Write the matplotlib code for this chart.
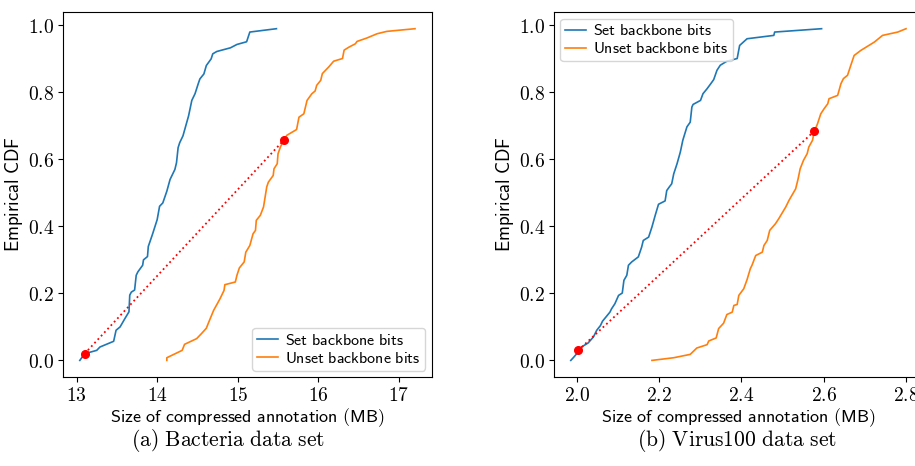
import matplotlib
matplotlib.use('Agg')
import matplotlib.pyplot as plt

plt.rcParams['mathtext.fontset'] = 'cm'

# (a) Bacteria data set
bact_set_x = [13.04, 13.10, 13.25, 13.29, 13.46, 13.49, 13.54, 13.60, 13.65, 13.66,
              13.68, 13.72, 13.74, 13.76, 13.82, 13.83, 13.88, 13.89, 13.94, 14.00,
              14.03, 14.07, 14.12, 14.16, 14.22, 14.24, 14.26, 14.28, 14.32, 14.39,
              14.43, 14.47, 14.51, 14.53, 14.58, 14.61, 14.67, 14.69, 14.74, 14.91,
              14.99, 15.11, 15.15, 15.48]
bact_set_y = [0.0, 0.02, 0.03, 0.04, 0.057, 0.09, 0.10, 0.125, 0.145, 0.195,
              0.204, 0.21, 0.254, 0.264, 0.284, 0.30, 0.31, 0.34, 0.375, 0.42,
              0.46, 0.47, 0.505, 0.54, 0.57, 0.59, 0.635, 0.65, 0.67, 0.73,
              0.776, 0.796, 0.826, 0.84, 0.855, 0.88, 0.90, 0.915, 0.922, 0.933,
              0.943, 0.951, 0.98, 0.99]
bact_unset_x = [14.12, 14.12, 14.31, 14.34, 14.49, 14.55, 14.61, 14.64, 14.70, 14.78,
                14.83, 14.84, 14.97, 14.99, 15.02, 15.08, 15.10, 15.15, 15.19, 15.22,
                15.23, 15.28, 15.32, 15.34, 15.36, 15.38, 15.44, 15.45, 15.49, 15.50,
                15.53, 15.57, 15.61, 15.73, 15.76, 15.82, 15.86, 15.92, 15.96, 15.98,
                16.03, 16.05, 16.13, 16.19, 16.30, 16.32, 16.38, 16.46, 16.48, 16.60,
                16.73, 16.85, 17.20]
bact_unset_y = [0.0, 0.008, 0.03, 0.048, 0.065, 0.08, 0.096, 0.114, 0.149, 0.184,
                0.209, 0.226, 0.234, 0.254, 0.276, 0.294, 0.323, 0.343, 0.378, 0.388,
                0.418, 0.433, 0.458, 0.488, 0.518, 0.532, 0.552, 0.572, 0.587, 0.617,
                0.637, 0.657, 0.672, 0.689, 0.726, 0.736, 0.776, 0.796, 0.804, 0.821,
                0.836, 0.856, 0.876, 0.893, 0.901, 0.926, 0.935, 0.945, 0.952, 0.962,
                0.975, 0.982, 0.99]
bact_gap_x = [13.10, 15.57]
bact_gap_y = [0.02, 0.657]

# (b) Virus100 data set
virus_set_x = [1.986, 1.992, 2.004, 2.012, 2.028, 2.041, 2.049, 2.058, 2.063, 2.073,
               2.081, 2.085, 2.093, 2.102, 2.111, 2.115, 2.122, 2.126, 2.134, 2.150,
               2.158, 2.162, 2.175, 2.183, 2.191, 2.199, 2.215, 2.219, 2.226, 2.231,
               2.236, 2.244, 2.252, 2.258, 2.268, 2.276, 2.280, 2.283, 2.301, 2.307,
               2.317, 2.326, 2.333, 2.341, 2.349, 2.365, 2.390, 2.396, 2.414, 2.479,
               2.481, 2.595]
virus_set_y = [0.0, 0.008, 0.025, 0.04, 0.052, 0.07, 0.09, 0.104, 0.117, 0.132,
               0.144, 0.154, 0.169, 0.194, 0.201, 0.239, 0.254, 0.284, 0.294, 0.309,
               0.338, 0.358, 0.368, 0.398, 0.433, 0.466, 0.476, 0.507, 0.519, 0.527,
               0.557, 0.587, 0.622, 0.657, 0.697, 0.711, 0.756, 0.764, 0.776, 0.796,
               0.811, 0.826, 0.838, 0.866, 0.881, 0.893, 0.901, 0.940, 0.960, 0.970,
               0.980, 0.990]
virus_unset_x = [2.183, 2.236, 2.276, 2.292, 2.317, 2.321, 2.339, 2.345, 2.357, 2.365,
                 2.378, 2.382, 2.390, 2.394, 2.406, 2.414, 2.422, 2.426, 2.435, 2.451,
                 2.455, 2.463, 2.469, 2.483, 2.491, 2.508, 2.516, 2.532, 2.538, 2.543,
                 2.551, 2.560, 2.564, 2.573, 2.577, 2.585, 2.593, 2.601, 2.610, 2.613,
                 2.634, 2.642, 2.648, 2.658, 2.666, 2.674, 2.690, 2.723, 2.743, 2.780,
                 2.800]
virus_unset_y = [0.0, 0.008, 0.018, 0.037, 0.047, 0.058, 0.067, 0.095, 0.111, 0.137,
                 0.144, 0.164, 0.167, 0.194, 0.214, 0.241, 0.274, 0.284, 0.313, 0.323,
                 0.343, 0.358, 0.388, 0.408, 0.423, 0.458, 0.478, 0.512, 0.542, 0.572,
                 0.597, 0.617, 0.637, 0.657, 0.682, 0.706, 0.736, 0.751, 0.766, 0.781,
                 0.791, 0.826, 0.841, 0.851, 0.881, 0.910, 0.925, 0.950, 0.970, 0.980,
                 0.990]
virus_gap_x = [2.004, 2.577]
virus_gap_y = [0.03, 0.684]

yticks = [0.0, 0.2, 0.4, 0.6, 0.8, 1.0]
bact_xticks = [13, 14, 15, 16, 17]
virus_xticks = [2.0, 2.2, 2.4, 2.6, 2.8]

fig = plt.figure(figsize=(9.15, 4.66), dpi=100)
ax1 = fig.add_axes([0.0689, 0.191, 0.403, 0.783])
ax2 = fig.add_axes([0.6055, 0.191, 0.403, 0.783])


def sf(s):
    return r'$\mathsf{' + s.replace(' ', r'\ ') + '}$'


def draw(ax, sx, sy, ux, uy, gx, gy, xticks, xfmt, loc):
    ax.plot(sx, sy, color='#1f77b4', lw=1.2, label=sf('Set backbone bits'))
    ax.plot(ux, uy, color='#ff7f0e', lw=1.2, label=sf('Unset backbone bits'))
    ax.plot(gx, gy, color='red', ls=':', lw=1.3, marker='o', ms=5.5)
    ax.set_yticks(yticks, labels=['$%.1f$' % v for v in yticks])
    ax.set_xticks(xticks, labels=[xfmt % v for v in xticks])
    ax.tick_params(labelsize=14, pad=3)
    ax.set_ylabel(sf('Empirical CDF'), fontsize=13.5, labelpad=2)
    ax.set_xlabel(sf('Size of compressed annotation (MB)'), fontsize=13, labelpad=1)
    ax.legend(loc=loc, fontsize=11.5, handlelength=1.3, handletextpad=0.45,
              borderaxespad=0.4, borderpad=0.3, labelspacing=0.2)


draw(ax1, bact_set_x, bact_set_y, bact_unset_x, bact_unset_y, bact_gap_x, bact_gap_y,
     bact_xticks, '$%d$', 'lower right')
draw(ax2, virus_set_x, virus_set_y, virus_unset_x, virus_unset_y, virus_gap_x, virus_gap_y,
     virus_xticks, '$%.1f$', 'upper left')

fig.text(228 / 915, 1 - 440 / 466, r'$\mathrm{(a)\ Bacteria\ data\ set}$',
         fontsize=15.5, ha='center', va='center')
fig.text(737 / 915, 1 - 440 / 466, r'$\mathrm{(b)\ Virus100\ data\ set}$',
         fontsize=15.5, ha='center', va='center')

fig.savefig('out.png', dpi=100)
